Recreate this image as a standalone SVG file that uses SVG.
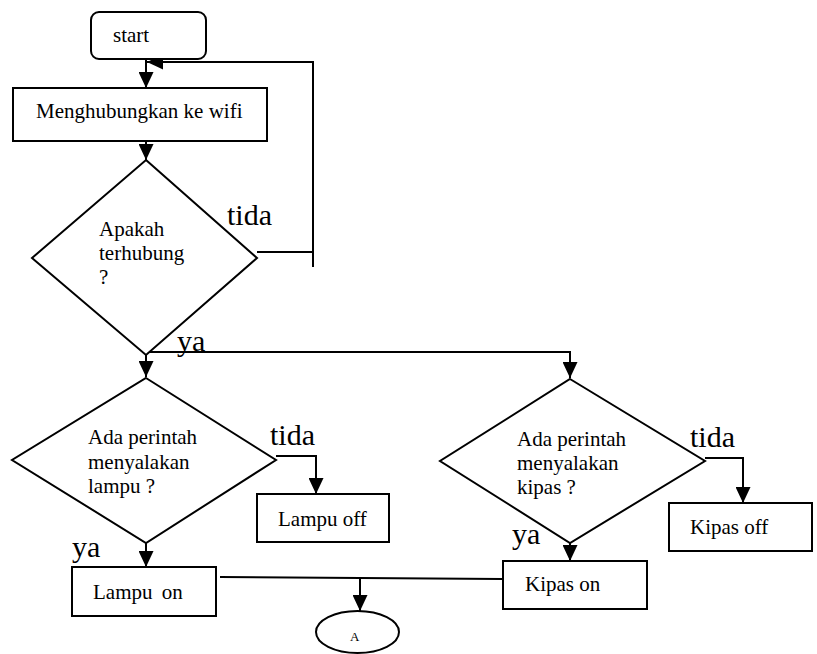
<svg xmlns="http://www.w3.org/2000/svg" width="817" height="654" viewBox="0 0 817 654">
<style>
.n{fill:#fff;stroke:#000;stroke-width:2}
.c{fill:none;stroke:#000;stroke-width:2}
text{font-family:'Liberation Serif','Times New Roman',serif;fill:#000}
.t{font-size:21px}
.l{font-size:30px}
.s{font-size:13px}
</style>
<defs>
<marker id="ah" viewBox="0 0 16 15" refX="16" refY="7.5" markerWidth="16" markerHeight="15" markerUnits="userSpaceOnUse" orient="auto">
<path d="M0,0 L16,7.5 L0,15 z" fill="#000"/>
</marker>
</defs>
<g id="connectors">
<path class="c" d="M146,59 V88" marker-end="url(#ah)"/>
<path class="c" d="M146,141 V160" marker-end="url(#ah)"/>
<path class="c" d="M257,252 H313"/>
<path class="c" d="M313,267 V62 H147" marker-end="url(#ah)"/>
<path class="c" d="M146,345 V377" marker-end="url(#ah)"/>
<path class="c" d="M148,352 H570 V378" marker-end="url(#ah)"/>
<path class="c" d="M276,456 H316 V494" marker-end="url(#ah)"/>
<path class="c" d="M146,532 V567" marker-end="url(#ah)"/>
<path class="c" d="M705,458 H743 V503" marker-end="url(#ah)"/>
<path class="c" d="M570,540 V561" marker-end="url(#ah)"/>
<path class="c" d="M220,577 L502,579"/>
<path class="c" d="M360,578 V611" marker-end="url(#ah)"/>
</g>
<g id="start">
<rect class="n" x="91" y="12" width="115" height="47" rx="8"/>
<text class="t" x="113" y="42">start</text>
</g>
<g id="wifi">
<rect class="n" x="13" y="88" width="254" height="53"/>
<text class="t" x="36" y="118">Menghubungkan ke wifi</text>
</g>
<g id="cek-wifi">
<polygon class="n" points="146,160 257,258 146,355 32,258"/>
<text class="t" x="99" y="236">Apakah</text>
<text class="t" x="99" y="260">terhubung</text>
<text class="t" x="99" y="284">?</text>
</g>
<g id="label-tida-1"><text class="l" x="227" y="225">tida</text></g>
<g id="label-ya-1"><text class="l" x="177" y="351">ya</text></g>
<g id="cek-lampu">
<polygon class="n" points="146,378 276,460 146,543 12,460"/>
<text class="t" x="88" y="444">Ada perintah</text>
<text class="t" x="88" y="469">menyalakan</text>
<text class="t" x="88" y="493">lampu ?</text>
</g>
<g id="label-tida-2"><text class="l" x="270" y="445">tida</text></g>
<g id="label-ya-2"><text class="l" x="72" y="557">ya</text></g>
<g id="lampu-off">
<rect class="n" x="257" y="494" width="132" height="48"/>
<text class="t" x="278" y="526">Lampu off</text>
</g>
<g id="lampu-on">
<rect class="n" x="72" y="567" width="144" height="49"/>
<text class="t" x="93" y="599" word-spacing="4">Lampu on</text>
</g>
<g id="cek-kipas">
<polygon class="n" points="570,379 705,461 570,543 440,461"/>
<text class="t" x="517" y="446">Ada perintah</text>
<text class="t" x="517" y="470">menyalakan</text>
<text class="t" x="517" y="494">kipas ?</text>
</g>
<g id="label-tida-3"><text class="l" x="690" y="447">tida</text></g>
<g id="label-ya-3"><text class="l" x="512" y="544">ya</text></g>
<g id="kipas-off">
<rect class="n" x="669" y="503" width="143" height="48"/>
<text class="t" x="690" y="534">Kipas off</text>
</g>
<g id="kipas-on">
<rect class="n" x="503" y="561" width="144" height="48"/>
<text class="t" x="525" y="591">Kipas on</text>
</g>
<g id="A">
<ellipse class="n" cx="357.5" cy="632" rx="41.5" ry="21"/>
<text class="s" x="350" y="641">A</text>
</g>
</svg>
